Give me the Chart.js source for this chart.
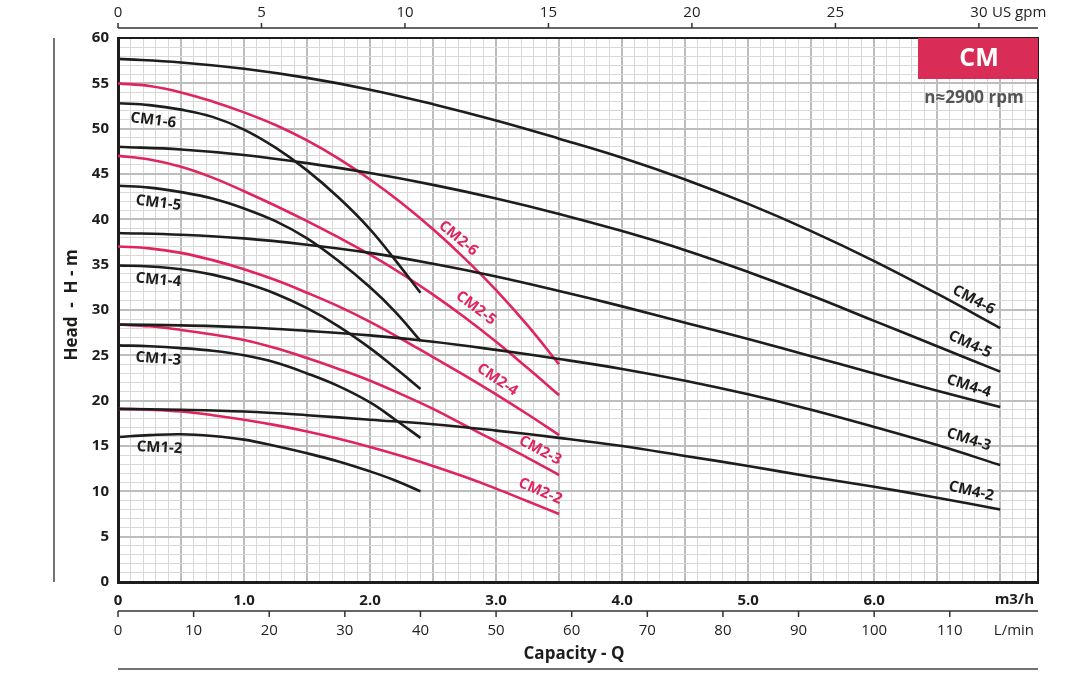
<!DOCTYPE html>
<html lang="en">
<head>
    <meta charset="UTF-8">
    <title>CM pump curves</title>
    <style>
        body {
            margin: 0;
            padding: 0;
            background-color: #fff;
        }
        canvas {
            display: block;
        }
    </style>
</head>
<body>
    <canvas id="curveChart" width="1082" height="676"></canvas>
    <script src="https://cdn.jsdelivr.net/npm/chart.js"></script>
    <script>
// capacity points (m3/h) for each pump family
const flowCM1 = [0, 0.25, 0.5, 0.75, 1.0, 1.25, 1.5, 1.75, 2.0, 2.2, 2.4];
const flowCM2 = [0, 0.25, 0.5, 0.75, 1.0, 1.25, 1.5, 1.75, 2.0, 2.25, 2.5, 2.75, 3.0, 3.25, 3.5];
const flowCM4 = [0, 0.5, 1.0, 1.5, 2.0, 2.5, 3.0, 3.5, 4.0, 4.5, 5.0, 5.5, 6.0, 6.5, 7.0];

// head (m)
const headCM1_6 = [52.8, 52.6, 52.1, 51.3, 49.9, 47.9, 45.4, 42.4, 38.9, 35.5, 31.9];
const headCM1_5 = [43.7, 43.5, 43.0, 42.3, 41.2, 39.8, 37.9, 35.4, 32.5, 29.8, 26.6];
const headCM1_4 = [34.9, 34.8, 34.5, 33.9, 33.0, 31.8, 30.2, 28.2, 25.8, 23.6, 21.3];
const headCM1_3 = [26.1, 26.0, 25.8, 25.5, 25.0, 24.2, 23.0, 21.6, 19.8, 17.9, 15.9];
const headCM1_2 = [16.0, 16.2, 16.3, 16.1, 15.7, 15.0, 14.2, 13.3, 12.2, 11.2, 10.0];

const headCM2_6 = [55.0, 54.7, 54.0, 53.0, 51.8, 50.4, 48.7, 46.7, 44.4, 41.8, 38.9, 35.7, 32.2, 28.3, 24.0];
const headCM2_5 = [47.0, 46.6, 45.8, 44.6, 43.1, 41.5, 39.8, 38.0, 36.1, 34.0, 31.7, 29.2, 26.5, 23.6, 20.6];
const headCM2_4 = [37.0, 36.8, 36.3, 35.5, 34.5, 33.3, 31.9, 30.4, 28.7, 26.8, 24.8, 22.8, 20.7, 18.5, 16.2];
const headCM2_3 = [28.4, 28.2, 27.8, 27.3, 26.7, 25.8, 24.7, 23.5, 22.2, 20.7, 19.1, 17.3, 15.5, 13.7, 11.8];
const headCM2_2 = [19.1, 19.0, 18.8, 18.4, 17.9, 17.3, 16.6, 15.8, 14.9, 13.9, 12.8, 11.6, 10.3, 8.9, 7.5];

const headCM4_6 = [57.7, 57.3, 56.6, 55.6, 54.3, 52.7, 50.9, 48.9, 46.8, 44.4, 41.7, 38.7, 35.4, 31.8, 28.0];
const headCM4_5 = [48.0, 47.7, 47.1, 46.2, 45.1, 43.8, 42.3, 40.6, 38.7, 36.6, 34.2, 31.6, 28.8, 26.0, 23.2];
const headCM4_4 = [38.5, 38.3, 37.9, 37.2, 36.3, 35.1, 33.7, 32.1, 30.4, 28.6, 26.8, 24.9, 23.0, 21.1, 19.3];
const headCM4_3 = [28.4, 28.3, 28.1, 27.7, 27.2, 26.5, 25.6, 24.6, 23.5, 22.2, 20.7, 19.0, 17.1, 15.1, 12.9];
const headCM4_2 = [19.1, 19.0, 18.8, 18.4, 17.9, 17.4, 16.7, 15.9, 15.0, 13.9, 12.8, 11.6, 10.5, 9.3, 8.0];

// axis tick labels
const flowTickLabels = ['0', '1.0', '2.0', '3.0', '4.0', '5.0', '6.0'];
const gpmTicks = [0, 5, 10, 15, 20, 25, 30];
const lminTicks = [0, 10, 20, 30, 40, 50, 60, 70, 80, 90, 100, 110];

const M3H_PER_GPM = 0.2277;
const M3H_PER_LMIN = 0.06;

const BLACK = '#1d1d1b';
const RED = '#e0245e';

const series = [
    { name: 'CM4-6', flow: flowCM4, head: headCM4_6, color: BLACK },
    { name: 'CM4-5', flow: flowCM4, head: headCM4_5, color: BLACK },
    { name: 'CM4-4', flow: flowCM4, head: headCM4_4, color: BLACK },
    { name: 'CM4-3', flow: flowCM4, head: headCM4_3, color: BLACK },
    { name: 'CM4-2', flow: flowCM4, head: headCM4_2, color: BLACK },
    { name: 'CM1-6', flow: flowCM1, head: headCM1_6, color: BLACK },
    { name: 'CM1-5', flow: flowCM1, head: headCM1_5, color: BLACK },
    { name: 'CM1-4', flow: flowCM1, head: headCM1_4, color: BLACK },
    { name: 'CM1-3', flow: flowCM1, head: headCM1_3, color: BLACK },
    { name: 'CM1-2', flow: flowCM1, head: headCM1_2, color: BLACK },
    { name: 'CM2-6', flow: flowCM2, head: headCM2_6, color: RED },
    { name: 'CM2-5', flow: flowCM2, head: headCM2_5, color: RED },
    { name: 'CM2-4', flow: flowCM2, head: headCM2_4, color: RED },
    { name: 'CM2-3', flow: flowCM2, head: headCM2_3, color: RED },
    { name: 'CM2-2', flow: flowCM2, head: headCM2_2, color: RED }
];

// where each curve name sits (data coords) and its tilt in degrees
const curveLabels = [
    { text: 'CM1-6', q: 0.28, h: 50.9, angle: 7 },
    { text: 'CM1-5', q: 0.32, h: 41.8, angle: 7 },
    { text: 'CM1-4', q: 0.32, h: 33.3, angle: 5 },
    { text: 'CM1-3', q: 0.32, h: 24.6, angle: 4 },
    { text: 'CM1-2', q: 0.33, h: 14.8, angle: 3 },
    { text: 'CM2-6', q: 2.70, h: 37.9, angle: 40 },
    { text: 'CM2-5', q: 2.84, h: 30.2, angle: 37 },
    { text: 'CM2-4', q: 3.01, h: 22.3, angle: 34 },
    { text: 'CM2-3', q: 3.35, h: 14.5, angle: 28 },
    { text: 'CM2-2', q: 3.35, h: 10.0, angle: 23 },
    { text: 'CM4-6', q: 6.79, h: 31.1, angle: 28 },
    { text: 'CM4-5', q: 6.76, h: 26.2, angle: 25 },
    { text: 'CM4-4', q: 6.75, h: 21.6, angle: 18 },
    { text: 'CM4-3', q: 6.75, h: 15.7, angle: 18 },
    { text: 'CM4-2', q: 6.77, h: 10.0, angle: 13 }
];

const FONT = '"Open Sans", "Noto Sans", sans-serif';

function nearMultiple(v, step) {
    const r = v / step;
    return Math.abs(r - Math.round(r)) < 1e-6;
}

const decorPlugin = {
    id: 'decor',
    afterDraw(chart) {
        const { ctx, chartArea: a, scales: { x, y } } = chart;
        ctx.save();

        // top and right frame
        ctx.strokeStyle = BLACK;
        ctx.lineWidth = 2;
        ctx.beginPath();
        ctx.moveTo(a.left, a.top);
        ctx.lineTo(a.right, a.top);
        ctx.lineTo(a.right, a.bottom);
        ctx.stroke();

        // CM badge
        ctx.fillStyle = '#d92d58';
        ctx.fillRect(918, a.top, a.right - 918, 41);
        ctx.fillStyle = '#fff';
        ctx.font = '700 25px ' + FONT;
        ctx.textAlign = 'center';
        ctx.textBaseline = 'middle';
        ctx.fillText('CM', 979, 59);
        ctx.fillStyle = '#555';
        ctx.font = '700 17px ' + FONT;
        ctx.fillText('n\u22482900 rpm', 974, 98);

        // curve names
        ctx.font = '700 15px ' + FONT;
        curveLabels.forEach(l => {
            ctx.save();
            ctx.translate(x.getPixelForValue(l.q), y.getPixelForValue(l.h));
            ctx.rotate(l.angle * Math.PI / 180);
            ctx.fillStyle = l.text.startsWith('CM2') ? RED : BLACK;
            ctx.fillText(l.text, 0, 0);
            ctx.restore();
        });

        // top US gpm axis
        const topY = a.top - 10;
        ctx.strokeStyle = '#333';
        ctx.lineWidth = 1.5;
        ctx.beginPath();
        ctx.moveTo(a.left, topY);
        ctx.lineTo(a.right, topY);
        ctx.stroke();
        ctx.fillStyle = '#222';
        ctx.font = '400 15px ' + FONT;
        gpmTicks.forEach(g => {
            const px = x.getPixelForValue(g * M3H_PER_GPM);
            ctx.beginPath();
            ctx.moveTo(px, topY);
            ctx.lineTo(px, topY - 5);
            ctx.stroke();
            ctx.fillText(String(g), px, 13);
        });
        ctx.textAlign = 'left';
        ctx.fillText('US gpm', 992, 13);

        // bottom L/min axis
        const lY = 611;
        ctx.textAlign = 'center';
        ctx.beginPath();
        ctx.moveTo(a.left, lY);
        ctx.lineTo(a.right, lY);
        ctx.stroke();
        lminTicks.forEach(l => {
            const px = x.getPixelForValue(l * M3H_PER_LMIN);
            ctx.beginPath();
            ctx.moveTo(px, lY);
            ctx.lineTo(px, lY + 6);
            ctx.stroke();
            ctx.fillText(String(l), px, 631);
        });
        ctx.textAlign = 'right';
        ctx.fillText('L/min', 1034, 631);

        // m3/h unit
        ctx.font = '700 15px ' + FONT;
        ctx.fillStyle = BLACK;
        ctx.fillText('m3/h', 1034, 600);

        // axis titles
        ctx.textAlign = 'center';
        ctx.font = '700 17px ' + FONT;
        ctx.fillText('Capacity - Q', 574, 654);
        ctx.save();
        ctx.translate(72, 305);
        ctx.rotate(-Math.PI / 2);
        ctx.fillText('Head  -  H - m', 0, 0);
        ctx.restore();

        // bottom rule and left rule
        ctx.strokeStyle = '#444';
        ctx.lineWidth = 1.5;
        ctx.beginPath();
        ctx.moveTo(a.left, 669);
        ctx.lineTo(a.right, 669);
        ctx.moveTo(54, a.top);
        ctx.lineTo(54, a.bottom);
        ctx.stroke();

        ctx.restore();
    }
};

const ctxCurves = document.getElementById('curveChart').getContext('2d');
const curveChart = new Chart(ctxCurves, {
    type: 'line',
    data: {
        datasets: series.map(s => ({
            label: s.name,
            data: s.flow.map((q, i) => ({ x: q, y: s.head[i] })),
            borderColor: s.color,
            borderWidth: 2.6,
            pointRadius: 0,
            fill: false,
            tension: 0.4
        }))
    },
    options: {
        responsive: false,
        animation: false,
        layout: {
            padding: { left: 0, right: 44, top: 38, bottom: 64 }
        },
        plugins: {
            legend: { display: false },
            tooltip: { enabled: false }
        },
        scales: {
            x: {
                type: 'linear',
                position: 'bottom',
                min: 0,
                max: 7.3,
                afterFit: scale => { scale.height = 30; },
                border: { color: BLACK, width: 3 },
                grid: {
                    drawTicks: false,
                    color: ctx => nearMultiple(ctx.tick.value, 0.5) ? '#bdbdbd' : '#d9d9d9',
                    lineWidth: ctx => nearMultiple(ctx.tick.value, 0.5) ? 2 : 1
                },
                ticks: {
                    stepSize: 0.1,
                    autoSkip: false,
                    maxTicksLimit: 200,
                    maxRotation: 0,
                    padding: 10,
                    color: BLACK,
                    font: { family: FONT, size: 15, weight: '700' },
                    callback: v => {
                        if (!nearMultiple(v, 1)) return '';
                        const i = Math.round(v);
                        return i < flowTickLabels.length ? flowTickLabels[i] : '';
                    }
                }
            },
            y: {
                type: 'linear',
                min: 0,
                max: 60,
                afterFit: scale => { scale.width = 118; },
                border: { color: BLACK, width: 3 },
                grid: {
                    drawTicks: false,
                    color: ctx => ctx.tick.value % 5 === 0 ? '#bdbdbd' : '#d9d9d9',
                    lineWidth: ctx => ctx.tick.value % 5 === 0 ? 2 : 1
                },
                ticks: {
                    stepSize: 1,
                    autoSkip: false,
                    maxTicksLimit: 100,
                    padding: 9,
                    color: BLACK,
                    font: { family: FONT, size: 15, weight: '700' },
                    callback: v => v % 5 === 0 ? String(v) : ''
                }
            }
        }
    },
    plugins: [decorPlugin]
});
    </script>
</body>
</html>
